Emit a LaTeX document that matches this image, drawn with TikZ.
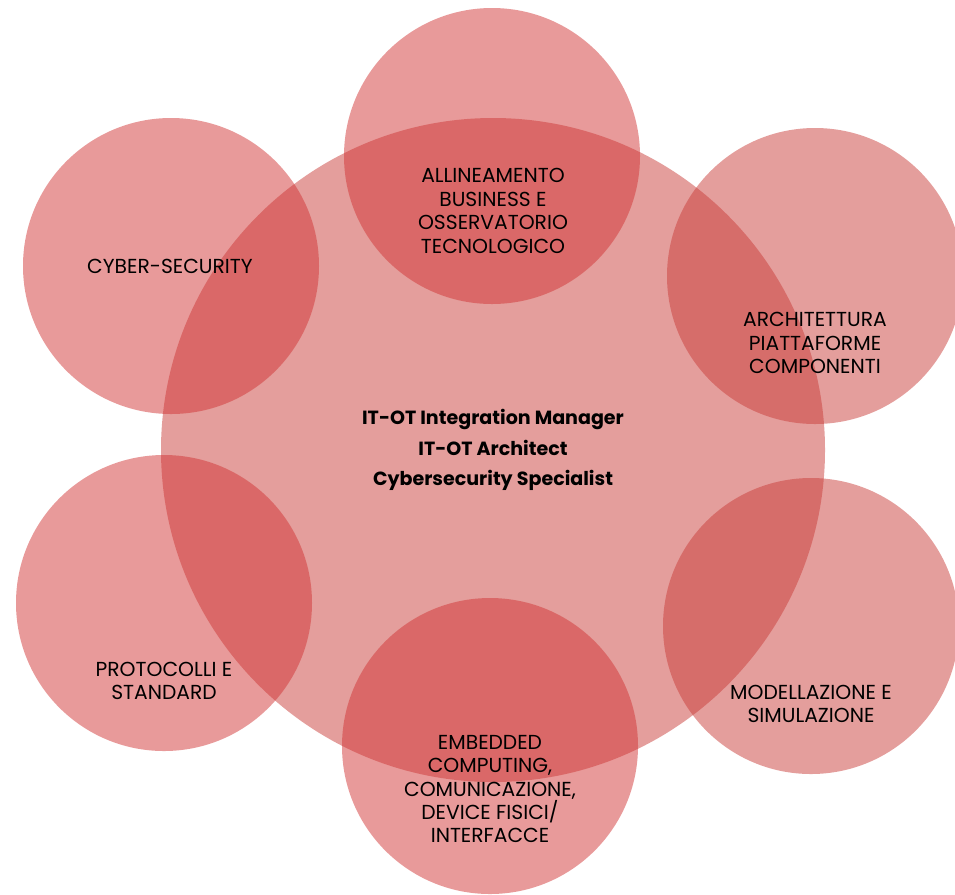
\documentclass[tikz,border=0pt]{standalone}
\usepackage{fontspec}
\setmainfont{Poppins}
\definecolor{smallc}{RGB}{209,53,53}
\definecolor{bigc}{RGB}{201,61,57}
\begin{document}
\begin{tikzpicture}[x=0.75pt,y=-0.75pt,
  bubble/.style={circle,inner sep=0pt,minimum size=222pt,fill=smallc,fill opacity=0.5},
  bubbleb/.style={bubble,fill=bigc},
  hub/.style={circle,inner sep=0pt,minimum size=498pt,fill=bigc,fill opacity=0.5},
  lbl/.style={align=center,inner sep=0pt,text=black,font=\fontsize{15.2}{17.6}\selectfont},
  hublbl/.style={align=center,inner sep=0pt,text=black,font=\bfseries\fontsize{14.3}{22.8}\selectfont}]
\clip (0,0) rectangle (955,894);
\node[hub] (hubc) at (493,450) {};
\node[bubble] (ctop) at (492,156) {};
\node[bubble] (ctl) at (171,266) {};
\node[bubbleb] (ctr) at (815,276) {};
\node[bubble] (cbl) at (164,603) {};
\node[bubbleb] (cbr) at (811,626) {};
\node[bubble] (cbot) at (490,746) {};
\node[hublbl] (thub) at (493,450) {IT-OT Integration Manager\\IT-OT Architect\\Cybersecurity Specialist};
\node[lbl] (ttop) at (493,211) {ALLINEAMENTO\\BUSINESS E\\OSSERVATORIO\\TECNOLOGICO};
\node[lbl] (ttl) at (170,266) {CYBER-SECURITY};
\node[lbl] (ttr) at (815,343) {ARCHITETTURA\\PIATTAFORME\\COMPONENTI};
\node[lbl] (tbl) at (164,681) {PROTOCOLLI E\\STANDARD};
\node[lbl] (tbr) at (811,704) {MODELLAZIONE E\\SIMULAZIONE};
\node[lbl] (tbot) at (490,789) {EMBEDDED\\COMPUTING,\\COMUNICAZIONE,\\DEVICE FISICI/\\INTERFACCE};
\end{tikzpicture}
\end{document}
